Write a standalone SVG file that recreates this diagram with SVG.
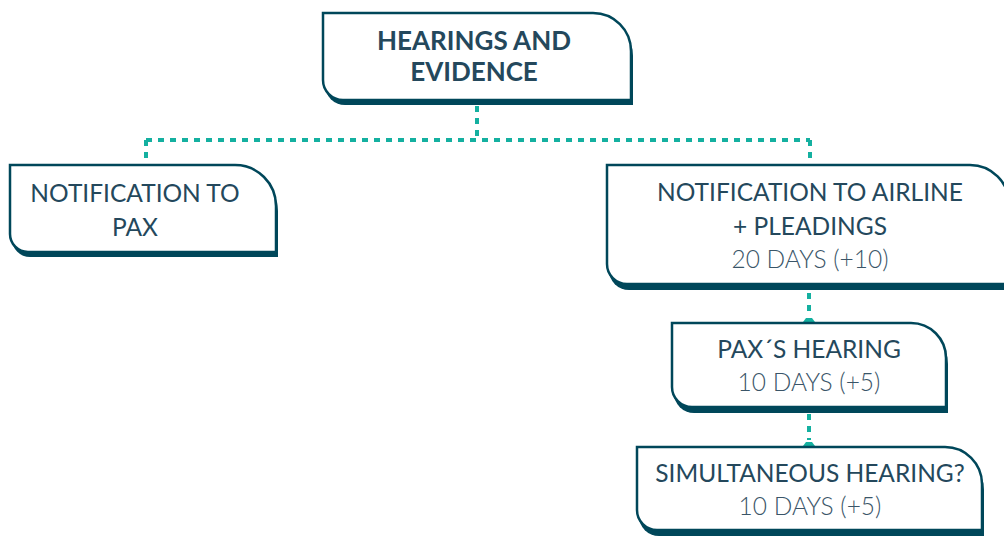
<svg xmlns="http://www.w3.org/2000/svg" width="1004" height="536" viewBox="0 0 1004 536">
<style>
.box{fill:#ffffff;stroke:#00475a;stroke-width:2.5}
.shadow{fill:#00475a}
.t{font-family:Lato,"Open Sans","Liberation Sans",sans-serif;font-size:24.5px;fill:#24485c;text-anchor:middle}
.b{font-weight:bold;font-size:26px}
.l{font-weight:300;fill:#3a5568}
.c{fill:none;stroke:#14b0a0;stroke-width:4;stroke-dasharray:6 6}
</style>
<g id="connectors">
<path class="c" d="M477,106 V140"/>
<path class="c" d="M146,140 H810"/>
<path class="c" d="M146,140 V160"/>
<path class="c" d="M810,140 V160"/>
<path class="c" d="M809,293 V316"/>
<path d="M803,322 L806,318 H812 L815,322 Z" fill="#14b0a0"/>
<path class="c" d="M809,414 V440"/>
<path d="M803,446 L806,442 H812 L815,446 Z" fill="#14b0a0"/>
</g>
<g id="node-hearings">
<path class="shadow" transform="translate(2,5)" d="M323,13 H593 A38,38 0 0 1 631,51 V100 H343 A20,20 0 0 1 323,80 Z"/>
<path class="box" d="M323,13 H593 A38,38 0 0 1 631,51 V100 H343 A20,20 0 0 1 323,80 Z"/>
<text class="t b" x="474" y="50">HEARINGS AND</text>
<text class="t b" x="474" y="81">EVIDENCE</text>
</g>
<g id="node-pax">
<path class="shadow" transform="translate(2,5)" d="M10,165 H235 A41,41 0 0 1 276,206 V252 H28 A18,18 0 0 1 10,234 Z"/>
<path class="box" d="M10,165 H235 A41,41 0 0 1 276,206 V252 H28 A18,18 0 0 1 10,234 Z"/>
<text class="t" x="135" y="202">NOTIFICATION TO</text>
<text class="t" x="135" y="236">PAX</text>
</g>
<g id="node-airline">
<path class="shadow" transform="translate(2,6)" d="M607,165 H970 A39,39 0 0 1 1009,204 V284 H627 A20,20 0 0 1 607,264 Z"/>
<path class="box" d="M607,165 H970 A39,39 0 0 1 1009,204 V284 H627 A20,20 0 0 1 607,264 Z"/>
<text class="t" x="810" y="201">NOTIFICATION TO AIRLINE</text>
<text class="t" x="810" y="235">+ PLEADINGS</text>
<text class="t l" x="810" y="268">20 DAYS (+10)</text>
</g>
<g id="node-pax-hearing">
<path class="shadow" transform="translate(2,6)" d="M672,323 H911 A35,35 0 0 1 946,358 V407 H692 A20,20 0 0 1 672,387 Z"/>
<path class="box" d="M672,323 H911 A35,35 0 0 1 946,358 V407 H692 A20,20 0 0 1 672,387 Z"/>
<text class="t" x="809" y="358">PAX´S HEARING</text>
<text class="t l" x="809" y="391">10 DAYS (+5)</text>
</g>
<g id="node-simultaneous">
<path class="shadow" transform="translate(2,6)" d="M637,447 H945 A37,37 0 0 1 982,484 V530 H657 A20,20 0 0 1 637,510 Z"/>
<path class="box" d="M637,447 H945 A37,37 0 0 1 982,484 V530 H657 A20,20 0 0 1 637,510 Z"/>
<text class="t" x="810" y="482">SIMULTANEOUS HEARING?</text>
<text class="t l" x="810" y="515">10 DAYS (+5)</text>
</g>
</svg>
